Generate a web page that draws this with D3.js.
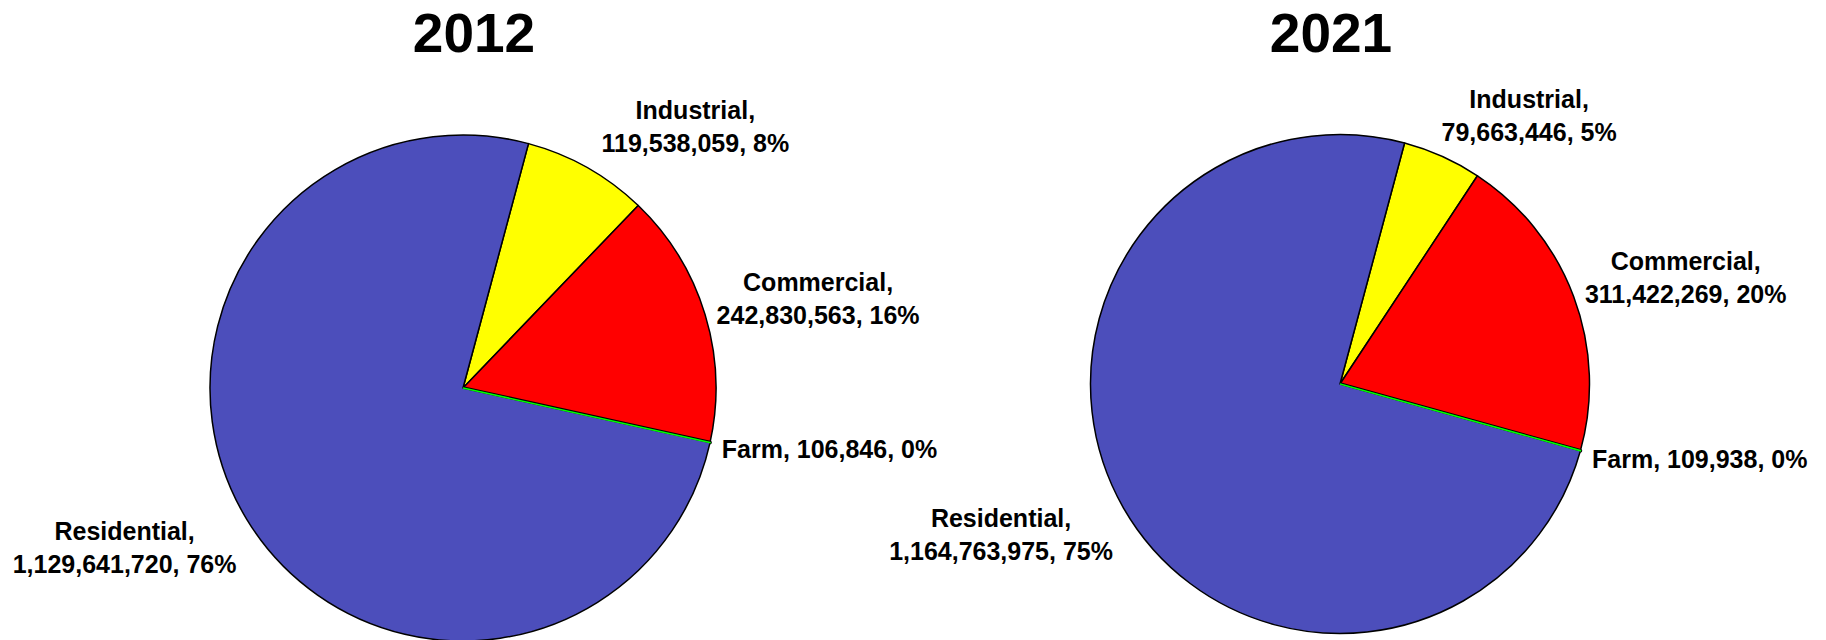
<!DOCTYPE html>
<html>
<head>
<meta charset="utf-8">
<script src="https://cdn.jsdelivr.net/npm/d3@7"></script>
<style>
  body { margin: 0; background: white; }
  text { font-family: "Liberation Sans", Arial, sans-serif; font-weight: bold; fill: black; }
</style>
</head>
<body>
<div id="chart"></div>
<script>
const years = ["2012", "2021"];
const categories = ["Industrial", "Commercial", "Farm", "Residential"];
const values2012 = [119538059, 242830563, 106846, 1129641720];
const values2021 = [79663446, 311422269, 109938, 1164763975];
const colors = ["#FFFF00", "#FF0000", "#00FF00", "#4C4EBB"];

const width = 1826, height = 640;

// where each pie goes
const layout = [
    { cx: 463, cy: 388, r: 253, titleX: 474 },
    { cx: 1340, cy: 384, r: 249.5, titleX: 1331 }
];

const svg = d3.select('#chart')
    .append('svg')
    .attr('width', width)
    .attr('height', height);

const color = d3.scaleOrdinal().domain(categories).range(colors);
const fmt = d3.format(",");

const pie = d3.pie()
    .sort(null)
    .value(d => d.value)
    .startAngle(15 * Math.PI / 180)
    .endAngle(15 * Math.PI / 180 + 2 * Math.PI);

[values2012, values2021].forEach((vals, i) => {
    const L = layout[i];
    const data = categories.map((c, j) => ({ name: c, value: vals[j] }));
    const total = d3.sum(vals);
    const arcs = pie(data);
    const arc = d3.arc().innerRadius(0).outerRadius(L.r);

    svg.append('text')
        .attr('x', L.titleX)
        .attr('y', 52)
        .attr('text-anchor', 'middle')
        .style('font-size', '55px')
        .text(years[i]);

    const g = svg.append('g')
        .attr('transform', `translate(${L.cx}, ${L.cy})`);

    g.selectAll('path.slice')
        .data(arcs)
        .join('path')
        .attr('class', 'slice')
        .attr('d', arc)
        .attr('fill', d => color(d.data.name))
        .attr('stroke', 'black')
        .attr('stroke-width', d => d.data.name === "Farm" ? 3.5 : 1.5)
        .attr('stroke-linejoin', 'round');

    // farm is a sliver: show its colour inside the outline
    g.selectAll('path.sliver')
        .data(arcs.filter(d => d.data.name === "Farm"))
        .join('path')
        .attr('class', 'sliver')
        .attr('d', arc)
        .attr('fill', 'none')
        .attr('stroke', d => color(d.data.name))
        .attr('stroke-width', 1.5);

    arcs.forEach(d => {
        const pct = Math.round(d.value / total * 100);
        const lines = d.value / total < 0.01
            ? [`${d.data.name}, ${fmt(d.value)}, ${pct}%`]
            : [`${d.data.name},`, `${fmt(d.value)}, ${pct}%`];

        const t = g.append('text')
            .attr('text-anchor', 'middle')
            .style('font-size', '25px');
        t.selectAll('tspan')
            .data(lines)
            .join('tspan')
            .attr('x', 0)
            .attr('dy', (l, k) => k === 0 ? 0 : 33)
            .text(l => l);

        // outside-end placement
        const a = (d.startAngle + d.endAngle) / 2;
        const sx = Math.sin(a), sy = -Math.cos(a);
        const R = L.r + 12;
        const bb = t.node().getBBox();
        const clamp = v => Math.max(-1, Math.min(1, v));
        let cx = sx * R + clamp(2 * sx) * bb.width / 2;
        const cy = sy * R + clamp(1.4 * sy) * bb.height / 2;
        if (sy < -0.8) cx += 10; // labels near the top sit a bit further right
        t.attr('transform', `translate(${cx - (bb.x + bb.width / 2)}, ${cy - (bb.y + bb.height / 2)})`);
    });
});
</script>
</body>
</html>
